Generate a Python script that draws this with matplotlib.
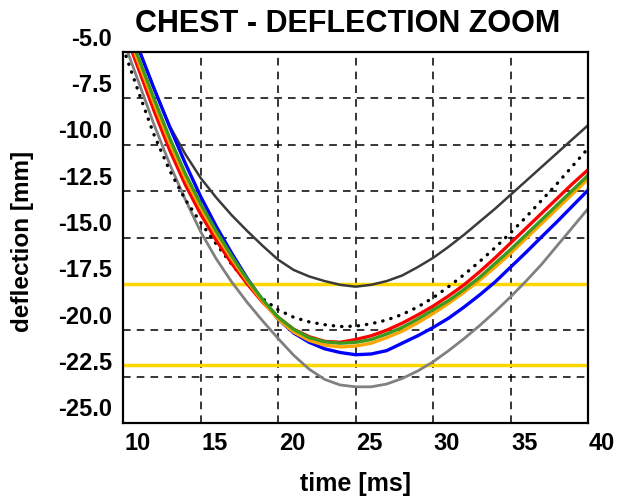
import matplotlib
matplotlib.use("Agg")
import matplotlib.pyplot as plt
from matplotlib.transforms import ScaledTranslation, blended_transform_factory

plt.rcParams['font.family'] = ['Liberation Sans', 'DejaVu Sans']

# ---------------- data ----------------
time_ms = list(range(10, 41))

curve_darkgray = [-2.7, -4.85, -7.0, -9.0, -10.5, -11.8, -12.85, -13.8, -14.65, -15.45,
                  -16.2, -16.75, -17.1, -17.35, -17.55, -17.65, -17.55, -17.35, -17.05, -16.6,
                  -16.1, -15.5, -14.85, -14.15, -13.45, -12.7, -11.95, -11.2, -10.45, -9.7,
                  -8.95]
curve_dotted = [-4.8, -7.2, -9.5, -11.4, -12.95, -14.2, -15.35, -16.45, -17.45, -18.3,
                -18.9, -19.3, -19.55, -19.7, -19.8, -19.78, -19.65, -19.45, -19.15, -18.75,
                -18.25, -17.65, -17.0, -16.3, -15.55, -14.75, -13.9, -13.0, -12.1, -11.15,
                -10.2]
curve_gray = [-4.35, -6.65, -8.95, -11.05, -12.95, -14.7, -16.15, -17.4, -18.5, -19.5,
              -20.45, -21.35, -22.1, -22.65, -22.95, -23.05, -23.05, -22.9, -22.6, -22.2,
              -21.7, -21.1, -20.45, -19.75, -19.0, -18.2, -17.35, -16.45, -15.45, -14.45,
              -13.45]
curve_blue = [-2.7, -4.85, -7.0, -9.05, -11.0, -12.8, -14.4, -15.85, -17.2, -18.4,
              -19.4, -20.15, -20.65, -21.0, -21.2, -21.32, -21.28, -21.1, -20.7, -20.3,
              -19.85, -19.35, -18.75, -18.1, -17.4, -16.6, -15.8, -14.97, -14.15, -13.3,
              -12.45]
curve_red = [-3.7, -5.95, -8.2, -10.3, -12.15, -13.75, -15.15, -16.4, -17.5, -18.5,
             -19.3, -19.95, -20.35, -20.6, -20.65, -20.5, -20.3, -20.0, -19.62, -19.18,
             -18.7, -18.15, -17.55, -16.85, -16.1, -15.3, -14.5, -13.7, -12.9, -12.1,
             -11.35]
curve_orange = [-3.4, -5.6, -7.8, -9.9, -11.8, -13.4, -14.85, -16.15, -17.35, -18.45,
                -19.4, -20.1, -20.55, -20.8, -20.9, -20.85, -20.7, -20.4, -20.05, -19.6,
                -19.1, -18.55, -17.95, -17.3, -16.6, -15.85, -15.05, -14.25, -13.45, -12.65,
                -11.85]
curve_green = [-3.2, -5.35, -7.55, -9.65, -11.55, -13.2, -14.65, -16.0, -17.25, -18.35,
               -19.3, -19.95, -20.4, -20.62, -20.7, -20.65, -20.5, -20.2, -19.85, -19.4,
               -18.9, -18.4, -17.8, -17.15, -16.4, -15.65, -14.85, -14.05, -13.25, -12.45,
               -11.65]

limit_upper = -17.5
limit_lower = -21.9

x_ticks = [10, 15, 20, 25, 30, 35, 40]
y_ticks = [-25.0, -22.5, -20.0, -17.5, -15.0, -12.5, -10.0, -7.5, -5.0]
x_tick_labels = ['10', '15', '20', '25', '30', '35', '40']
y_tick_labels = ['-25.0', '-22.5', '-20.0', '-17.5', '-15.0', '-12.5', '-10.0', '-7.5', '-5.0']

title = 'CHEST - DEFLECTION ZOOM'
xlabel = 'time [ms]'
ylabel = 'deflection [mm]'

# ---------------- figure ----------------
W, H, DPI = 620, 499, 100
fig = plt.figure(figsize=(W / DPI, H / DPI), dpi=DPI)
ax_left, ax_right, ax_top, ax_bottom = 123.3, 588.0, 52.0, 423.0
ax = fig.add_axes([ax_left / W, 1 - ax_bottom / H,
                   (ax_right - ax_left) / W, (ax_bottom - ax_top) / H])

ax.set_xlim(10, 40)
ax.set_ylim(-25, -5)
ax.set_xticks(x_ticks)
ax.set_yticks(y_ticks)
ax.set_xticklabels([])
ax.set_yticklabels([])
ax.tick_params(length=0)
ax.set_axisbelow(True)
ax.grid(True, color='black', linestyle=(0, (5, 4)), linewidth=1.1)
for sp in ax.spines.values():
    sp.set_linewidth(1.6)
    sp.set_color('black')

gold = '#FFD700'
ax.axhline(limit_upper, color=gold, lw=2.5, zorder=1.5)
ax.axhline(limit_lower, color=gold, lw=2.5, zorder=1.5)

ax.plot(time_ms, curve_gray, color='#808080', lw=2.0, zorder=2)
ax.plot(time_ms, curve_darkgray, color='#3a3a3a', lw=1.8, zorder=2)
ax.plot(time_ms, curve_dotted, color='black', lw=2.4, linestyle=(0, (0.1, 2.4)),
        dash_capstyle='round', zorder=2)
ax.plot(time_ms, curve_blue, color='#0000FF', lw=2.4, zorder=2)
ax.plot(time_ms, curve_red, color='#FF0000', lw=2.4, zorder=2)
ax.plot(time_ms, curve_orange, color='#FFA500', lw=2.4, zorder=2)
ax.plot(time_ms, curve_green, color='#3C9A1C', lw=2.4, zorder=2)

# tick labels (offset like in the reference)
fs_tick = 17
xtr = blended_transform_factory(ax.transData, ax.transAxes) + \
    ScaledTranslation(14 / DPI, -27 / DPI, fig.dpi_scale_trans)
for t, lab in zip(x_ticks, x_tick_labels):
    ax.text(t, 0, lab, transform=xtr, ha='center', va='baseline',
            fontsize=fs_tick, fontweight='bold', clip_on=False)
ytr = blended_transform_factory(ax.transAxes, ax.transData) + \
    ScaledTranslation(-11 / DPI, 6.5 / DPI, fig.dpi_scale_trans)
for v, lab in zip(y_ticks, y_tick_labels):
    ax.text(0, v, lab, transform=ytr, ha='right', va='baseline',
            fontsize=fs_tick, fontweight='bold', clip_on=False)

fig.text(348 / W, 1 - 32 / H, title, ha='center', va='baseline',
         fontsize=22, fontweight='bold')
fig.text(355 / W, 1 - 491 / H, xlabel, ha='center', va='baseline',
         fontsize=18, fontweight='bold')
fig.text(23 / W, 1 - 241 / H, ylabel, ha='center', va='center', rotation=90,
         fontsize=17.5, fontweight='bold')

fig.savefig('out.png', dpi=DPI)
